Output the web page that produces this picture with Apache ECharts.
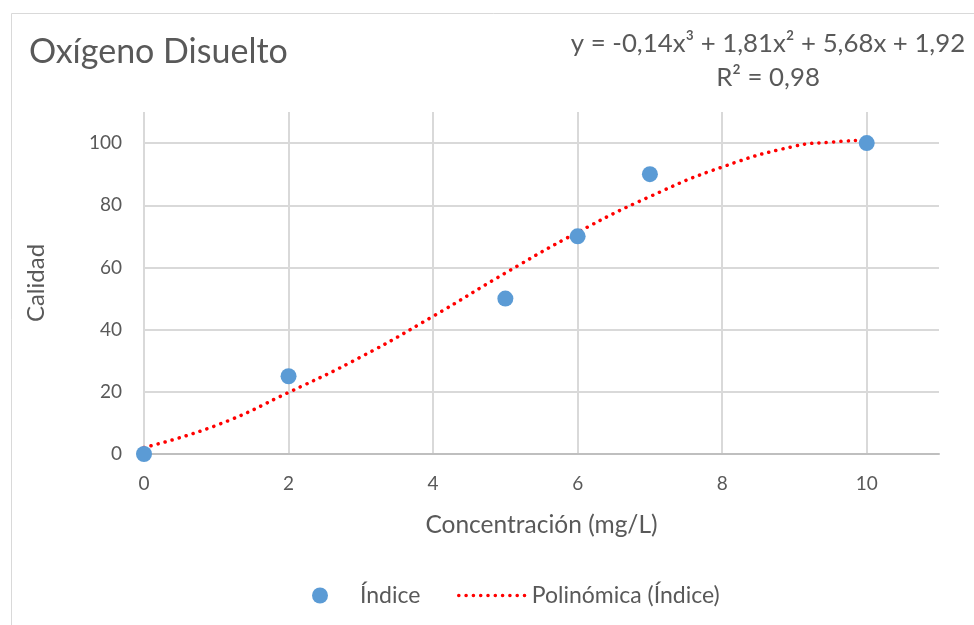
<!DOCTYPE html>
<html><head><meta charset="utf-8">
<script src="https://cdn.jsdelivr.net/npm/echarts@6/dist/echarts.min.js"></script>
<style>html,body{margin:0;padding:0;background:#fff}#c{width:974px;height:625px}</style>
</head><body><div id="c"></div>
<script>
// Observed points (Índice)
const concX = [0, 2, 5, 6, 7, 10];
const indice = [0, 25, 50, 70, 90, 100];
// Trendline values
const trendX = [0, 1, 2, 3, 4, 5, 6, 7, 8, 9, 9.5, 10];
const trendY = [2.1, 9.2, 19.8, 31.2, 44.3, 58.2, 71.3, 82.8, 92.3, 99.0, 100.3, 101.0];
const xTicks = [0, 2, 4, 6, 8, 10];
const yTicks = [0, 20, 40, 60, 80, 100];
const titleText = 'Oxígeno Disuelto';
const eqLines = ['y = -0,14x³ + 1,81x² + 5,68x + 1,92', 'R² = 0,98'];

const FONT = 'Lato';
const TXT = '#595959';
const chart = echarts.init(document.getElementById('c'), null, {renderer: 'canvas'});
chart.setOption({
  animation: false,
  backgroundColor: '#fff',
  textStyle: {fontFamily: FONT},
  grid: {left: 144, right: 35, top: 112, bottom: 171, containLabel: false},
  graphic: [
    {type: 'rect', shape: {x: 11.5, y: 13.5, width: 1000, height: 700}, style: {fill: 'none', stroke: '#d9d9d9', lineWidth: 1}, silent: true, z: -10},
    {type: 'text', x: 29, y: 52, style: {text: titleText, font: '34px ' + FONT, fill: TXT, verticalAlign: 'middle'}},
    {type: 'text', x: 768, y: 27, style: {text: eqLines.join('\n'), font: '25.8px ' + FONT, fill: TXT, align: 'center', lineHeight: 34}}
  ],
  xAxis: {
    type: 'value', min: 0, max: 11, interval: 2,
    name: 'Concentración (mg/L)', nameLocation: 'middle', nameGap: 59,
    nameTextStyle: {fontSize: 24.5, color: TXT, fontFamily: FONT},
    axisLine: {show: true, lineStyle: {color: '#bfbfbf', width: 2}},
    axisTick: {show: false},
    axisLabel: {show: true, color: TXT, fontSize: 19, margin: 20, showMaxLabel: false,
      formatter: v => xTicks.indexOf(v) >= 0 ? String(v) : ''},
    splitLine: {show: true, showMaxLine: false, lineStyle: {color: '#d9d9d9', width: 2}}
  },
  yAxis: {
    type: 'value', min: 0, max: 110, interval: 20,
    name: 'Calidad', nameLocation: 'middle', nameGap: 96, nameRotate: 90,
    nameTextStyle: {fontSize: 24, color: TXT, fontFamily: FONT},
    axisLine: {show: false},
    axisTick: {show: false},
    axisLabel: {color: TXT, fontSize: 19, margin: 22, showMaxLabel: false,
      formatter: v => yTicks.indexOf(v) >= 0 ? String(v) : ''},
    splitLine: {show: true, showMaxLine: false, lineStyle: {color: '#d9d9d9', width: 2}}
  },
  legend: [
    {data: [{name: 'Índice', icon: 'circle'}], left: 307, top: 579, itemWidth: 16, itemHeight: 16, itemGap: 0,
     textStyle: {color: TXT, fontSize: 23, fontFamily: FONT, padding: [0, 0, 0, 27]}},
    {data: ['Polinómica (Índice)'], left: 452, top: 579, itemWidth: 68, itemHeight: 16, itemGap: 0,
     itemStyle: {color: 'rgba(0,0,0,0)', borderColor: 'rgba(0,0,0,0)', borderWidth: 0},
     lineStyle: {color: '#ff0000', width: 3.5, type: [0.1, 7.2], cap: 'round'},
     textStyle: {color: TXT, fontSize: 23, fontFamily: FONT, padding: [0, 0, 0, 0]}}
  ],
  series: [
    {name: 'Polinómica (Índice)', type: 'line', smooth: true, showSymbol: false, symbol: 'none',
     data: trendX.map((x, i) => [x, trendY[i]]),
     lineStyle: {color: '#ff0000', width: 3.5, type: [0.1, 7.2], cap: 'round'},
     itemStyle: {color: '#ff0000'}, z: 3},
    {name: 'Índice', type: 'scatter', symbol: 'circle', symbolSize: 16,
     data: concX.map((x, i) => [x, indice[i]]),
     itemStyle: {color: '#5b9bd5', opacity: 1}, z: 4}
  ]
});
</script></body></html>
